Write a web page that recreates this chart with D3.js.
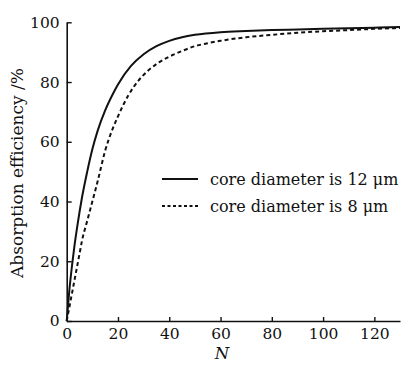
<!DOCTYPE html>
<html>
<head>
<meta charset="utf-8">
<script src="https://cdn.jsdelivr.net/npm/d3@7"></script>
<style>
  html, body { margin: 0; padding: 0; background: #fff; }
  svg { display: block; }
  text { font-family: "DejaVu Serif", serif; fill: #111; }
</style>
</head>
<body>
<svg id="chart" width="411" height="366"></svg>
<script>
// Data
const nSolid = [0,1,2,3,4,5,6,8,10,12,15,18,20,25,30,35,40,45,50,60,70,80,90,100,110,120,130];
const effSolid = [0,10,18,25,31,36.5,41.5,50,57.5,63.5,70.5,76,79.2,85.3,89.3,92,93.8,95,95.8,96.7,97.1,97.4,97.6,97.8,98,98.2,98.4];
const nDashed = [0,1,2,3,4,5,6,8,10,12,15,18,20,24,28,32,36,40,45,50,55,60,70,80,90,100,110,120,130];
const effDashed = [0,4.5,9,13.5,18,22.5,27,33.5,40,46.5,57,64.5,68.5,75.5,80.5,84,86.6,88.5,90.4,92,93,93.8,95,95.8,96.5,97,97.4,97.8,98.1];
const xTicks = [0,20,40,60,80,100,120];
const yTicks = [0,20,40,60,80,100];
const seriesNames = ["core diameter is 12 \u03bcm", "core diameter is 8 \u03bcm"];
const xLabel = "N";
const yLabel = "Absorption efficiency /%";

const svg = d3.select("#chart");
const x = d3.scaleLinear().domain([0,130]).range([66.7,400]);
const y = d3.scaleLinear().domain([0,100]).range([321,22.3]);

const xAxis = svg.append("g").attr("transform", `translate(0,${y(0)})`)
  .call(d3.axisBottom(x).tickValues(xTicks).tickSizeInner(-4).tickSizeOuter(0).tickPadding(7));
const yAxis = svg.append("g").attr("transform", `translate(${x(0)},0)`)
  .call(d3.axisLeft(y).tickValues(yTicks).tickSizeInner(-5).tickSizeOuter(0).tickPadding(7));
[xAxis, yAxis].forEach(g => {
  g.attr("font-family", null);
  g.selectAll("path.domain").attr("stroke", "#111").attr("stroke-width", 1.6);
  g.selectAll(".tick line").attr("stroke", "#111").attr("stroke-width", 1.4);
  g.selectAll(".tick text").attr("font-size", 15.5).attr("fill", "#111");
});

const line = d3.line().x(d => x(d[0])).y(d => y(d[1])).curve(d3.curveMonotoneX);
const solidData = nSolid.map((n,i) => [n, effSolid[i]]);
const dashedData = nDashed.map((n,i) => [n, effDashed[i]]);

svg.append("path").datum(dashedData).attr("d", line)
  .attr("fill", "none").attr("stroke", "#111").attr("stroke-width", 2)
  .attr("stroke-dasharray", "4,3");
svg.append("path").datum(solidData).attr("d", line)
  .attr("fill", "none").attr("stroke", "#111").attr("stroke-width", 2);

// Legend
const leg = svg.append("g");
const rows = [{name: seriesNames[0], dash: null, y: 179}, {name: seriesNames[1], dash: "3,2.5", y: 206}];
rows.forEach(r => {
  leg.append("line").attr("x1", 162).attr("x2", 198).attr("y1", r.y).attr("y2", r.y)
    .attr("stroke", "#111").attr("stroke-width", 2).attr("stroke-dasharray", r.dash);
  leg.append("text").attr("x", 210).attr("y", r.y + 6).attr("font-size", 16).text(r.name);
});

// Axis titles
svg.append("text").attr("x", 222).attr("y", 359).attr("text-anchor", "middle")
  .attr("font-size", 16.5).attr("font-style", "italic").text(xLabel);
svg.append("text").attr("transform", "translate(23,173) rotate(-90)").attr("text-anchor", "middle")
  .attr("font-size", 17).text(yLabel);
</script>
</body>
</html>
